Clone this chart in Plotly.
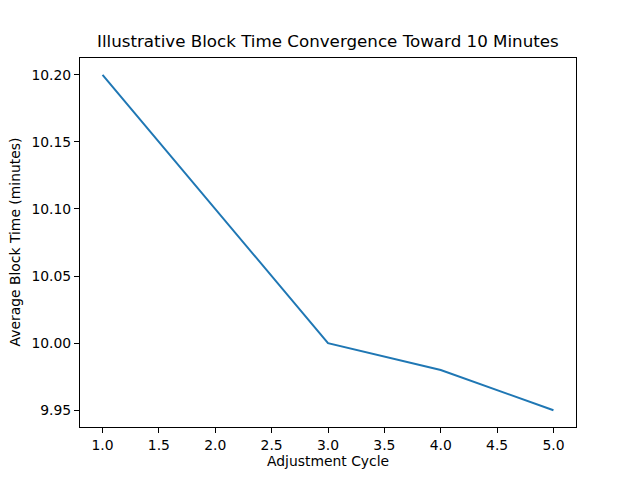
import plotly.graph_objects as go

cycles = [1, 2, 3, 4, 5]
block_times = [10.20, 10.10, 10.00, 9.98, 9.95]
x_ticks = [1.0, 1.5, 2.0, 2.5, 3.0, 3.5, 4.0, 4.5, 5.0]
y_ticks = [9.95, 10.00, 10.05, 10.10, 10.15, 10.20]

font = "DejaVu Sans, Liberation Sans, sans-serif"

fig = go.Figure()
fig.add_trace(go.Scatter(x=cycles, y=block_times, mode="lines",
                         line=dict(color="#1f77b4", width=2)))

axis_common = dict(showgrid=False, zeroline=False, showline=True, linecolor="black",
                   linewidth=1, mirror=True, ticks="outside", ticklen=5, tickwidth=1,
                   tickcolor="black", tickfont=dict(family=font, size=13.9, color="black"))

fig.update_layout(
    width=632, height=472, autosize=False,
    margin=dict(l=72, r=64, t=50, b=53, pad=0),
    paper_bgcolor="white", plot_bgcolor="white",
    showlegend=False,
    xaxis=dict(range=[0.8, 5.2], tickvals=x_ticks,
               ticktext=[f"{v:.1f}" for v in x_ticks], **axis_common),
    yaxis=dict(range=[9.9375, 10.2125], tickvals=y_ticks,
               ticktext=[f"{v:.2f}" for v in y_ticks], **axis_common),
    annotations=[
        dict(text="Illustrative Block Time Convergence Toward 10 Minutes",
             xref="paper", yref="paper", x=0.5, y=1, xanchor="center", yanchor="bottom",
             yshift=5, showarrow=False, font=dict(family=font, size=16.7, color="black")),
        dict(text="Adjustment Cycle", xref="paper", yref="paper", x=0.5, y=0,
             xanchor="center", yanchor="top", yshift=-24, showarrow=False,
             font=dict(family=font, size=13.9, color="black")),
        dict(text="Average Block Time (minutes)", xref="paper", yref="paper", x=0, y=0.5,
             xanchor="right", yanchor="middle", xshift=-56, textangle=-90, showarrow=False,
             font=dict(family=font, size=13.9, color="black")),
    ],
)

fig.write_html("out.html")
